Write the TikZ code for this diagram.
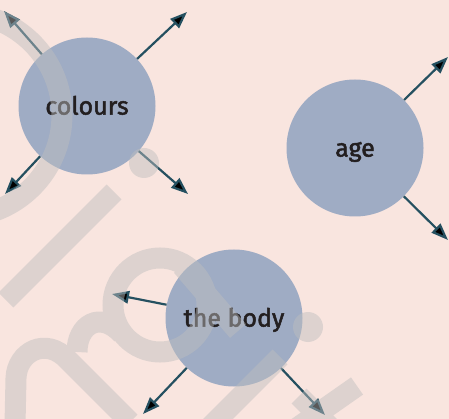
\documentclass[tikz,border=0pt]{standalone}
\usepackage{fontspec}
\setmainfont{Fira Sans}
\newfontfamily\topicfont{Fira Sans}[FakeBold=2]
\usetikzlibrary{arrows.meta}
\definecolor{paper}{RGB}{249,229,223}
\definecolor{bubble}{RGB}{159,172,196}
\definecolor{raycol}{RGB}{37,80,96}
\definecolor{ink}{RGB}{35,31,32}
\definecolor{wmgray}{RGB}{190,190,190}
\begin{document}
\begin{tikzpicture}[x=1pt, y=-1pt,
	topic/.style={circle, fill=bubble, minimum size=137pt, inner sep=0pt, text=ink,
		text height=20pt, text depth=2.8pt, font=\topicfont\fontsize{25}{30}\selectfont},
	spoke/.style={draw=raycol, line width=2.2pt, -{Triangle[length=17pt, width=12.5pt]}},
	wm/.style={draw=wmgray, line width=21pt}]
	\clip (0,0) rectangle (449,419);
	\fill[paper] (0,0) rectangle (449,419);

	\node[topic] (colours) at (87,106) {colours};
	\node[topic] (age) at (355,148) {age};
	\node[topic] (body) at (234,318) {the body};

	\coordinate (c-nw) at (4,11);
	\coordinate (c-ne) at (187,12);
	\coordinate (c-sw) at (5,194);
	\coordinate (c-se) at (188,194);
	\coordinate (a-ne) at (448,57);
	\coordinate (a-se) at (448,240);
	\coordinate (b-w) at (112,294);
	\coordinate (b-sw) at (143,414);
	\coordinate (b-se) at (325,415);

	\path[spoke] (colours) edge (c-nw) edge (c-ne) edge (c-sw) edge (c-se);
	\path[spoke] (age) edge (a-ne) edge (a-se);
	\path[spoke] (body) edge (b-w) edge (b-sw) edge (b-se);

	% watermark
	\begin{scope}[transparency group, opacity=0.47]
		\draw[wm] (-40,115) circle (102);
		\draw[wm] (114,192) -- (6,300);
		\fill[wmgray] (144,163) circle (15);
		\draw[wm] (160,305) circle (47);
		\draw[wm] (182,266) -- (238,331);
		\draw[wm] (15,425) -- (16,378) .. controls (17,352) and (46,336) .. (68,360) -- (130,422);
		\draw[wm] (77,352) .. controls (77,325) and (100,310) .. (122,334);
		\draw[wm] (280,357) -- (210,427);
		\fill[wmgray] (308,327) circle (15);
		\draw[wm] (357,386) -- (297,428);
		\draw[wm] (299,396) -- (333,430);
	\end{scope}
\end{tikzpicture}
\end{document}
